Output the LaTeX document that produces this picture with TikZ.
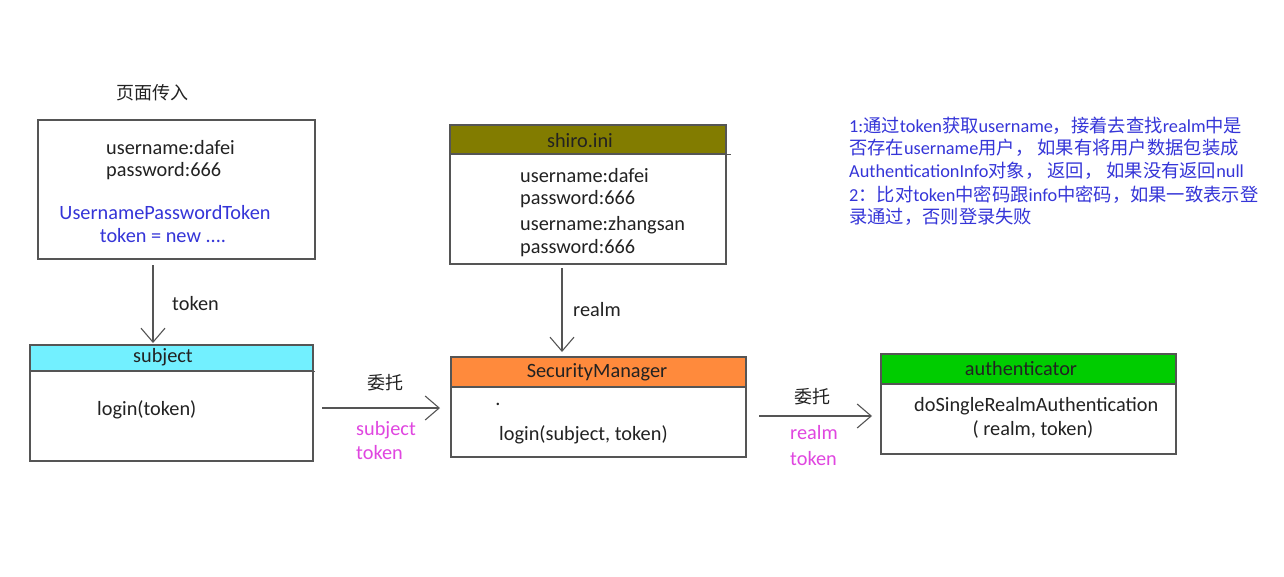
\documentclass[tikz,border=0pt]{standalone}
\usepackage{fontspec}
\setmainfont{Carlito}
\newfontfamily\cjk{Noto Sans CJK SC}
\usetikzlibrary{arrows.meta}
\definecolor{linec}{HTML}{555555}
\definecolor{txtc}{HTML}{222222}
\definecolor{bluec}{HTML}{3535D8}
\definecolor{magc}{HTML}{E046E0}
\definecolor{cyanc}{HTML}{72F0FF}
\definecolor{olivec}{HTML}{827C00}
\definecolor{orangec}{HTML}{FF8A3C}
\definecolor{greenc}{HTML}{00CC00}
\tikzset{
  box/.style={draw=linec, line width=1.2pt, inner sep=0pt, rectangle},
  hdr/.style={draw=linec, line width=1.2pt, inner sep=0pt, rectangle, font=\fontsize{20.3}{22}\selectfont, text=txtc},
  txt/.style={font=\fontsize{20.3}{22}\selectfont, text=txtc, inner sep=0pt},
  ctxt/.style={font=\fontsize{18}{20}\selectfont, text=txtc, inner sep=0pt},
  btxt/.style={font=\fontsize{20.3}{22}\selectfont, text=bluec, inner sep=0pt},
  mtxt/.style={font=\fontsize{20.3}{22}\selectfont, text=magc, inner sep=0pt},
  note/.style={font=\fontsize{18.3}{20}\selectfont, text=bluec, inner sep=0pt, anchor=west},
  arr/.style={draw=linec, line width=1.1pt, -{Straight Barb[length=14pt,width=24pt,line width=1.1pt]}}
}
\begin{document}
\begin{tikzpicture}[x=1pt,y=-1pt]
\useasboundingbox[fill=white] (0,0) rectangle (1284,576);

% title
\node[ctxt] (title) at (152,93) {\cjk 页面传入};

% input box
\node[box, minimum width=277, minimum height=139] (input) at (176.5,189.5) {};
\node[txt,anchor=west] (u1) at (106,148) {username:dafei};
\node[txt,anchor=west] (p1) at (106,171) {password:666};
\node[btxt] (upt) at (165,213) {UsernamePasswordToken};
\node[btxt] (tnew) at (163,236) {token = new ....};

% subject box
\node[box, minimum width=283, minimum height=116] (subject) at (171.5,403) {};
\node[hdr, fill=cyanc, minimum width=283, minimum height=26] (subjhdr) at (171.5,358) {};
\draw[linec, line width=1.2pt] (subjhdr.south west) -- ++(286,0);
\node[txt] (subjname) at (163,357) {subject};
\node[txt,anchor=west] (login1) at (97,410) {login(token)};

% arrow input -> subject
\coordinate (a1s) at (153,265);
\coordinate (a1e) at (153,343);
\draw[arr] (a1s) -- (a1e);
\node[txt,anchor=west] (tok) at (172,304) {token};

% shiro.ini box
\node[box, minimum width=276, minimum height=139] (shiro) at (588,194.5) {};
\node[hdr, fill=olivec, minimum width=276, minimum height=29] (shirohdr) at (588,139.5) {};
\draw[linec, line width=1.2pt] (shirohdr.south west) -- ++(282,0);
\node[txt] (shironame) at (580,141) {shiro.ini};
\node[txt,anchor=west] (su1) at (520,176) {username:dafei};
\node[txt,anchor=west] (sp1) at (520,199) {password:666};
\node[txt,anchor=west] (su2) at (520,225) {username:zhangsan};
\node[txt,anchor=west] (sp2) at (520,248) {password:666};

% SecurityManager box
\node[box, minimum width=295, minimum height=100] (sm) at (598.5,407) {};
\node[hdr, fill=orangec, minimum width=295, minimum height=30] (smhdr) at (598.5,372) {};
\node[txt] (smname) at (597,372) {SecurityManager};
\node[txt] (dot) at (498,404) {.};
\node[txt,anchor=west] (login2) at (499,435) {login(subject, token)};

% arrow shiro -> sm
\coordinate (a2s) at (562,268);
\coordinate (a2e) at (562,352);
\draw[arr] (a2s) -- (a2e);
\node[txt,anchor=west] (realmlbl) at (573,310) {realm};

% arrow subject -> sm
\coordinate (a3s) at (322,408);
\coordinate (a3e) at (440,408);
\draw[arr] (a3s) -- (a3e);
\node[ctxt] (wt1) at (385,383) {\cjk 委托};
\node[mtxt,anchor=west] (ms1) at (356,430) {subject};
\node[mtxt,anchor=west] (mt1) at (356,453) {token};

% authenticator box
\node[box, minimum width=295, minimum height=100] (auth) at (1028.5,404) {};
\node[hdr, fill=greenc, minimum width=295, minimum height=30] (authhdr) at (1028.5,369) {};
\node[txt] (authname) at (1021,369) {authenticator};
\node[txt,anchor=west] (dosr) at (914,406) {doSingleRealmAuthentication};
\node[txt] (dosr2) at (1033,429) {( realm, token)};

% arrow sm -> auth
\coordinate (a4s) at (759,416);
\coordinate (a4e) at (872,416);
\draw[arr] (a4s) -- (a4e);
\node[ctxt] (wt2) at (812,397) {\cjk 委托};
\node[mtxt,anchor=west] (mr2) at (790,433) {realm};
\node[mtxt,anchor=west] (mt2) at (790,459) {token};

% note
\node[note] (n1) at (849,126) {1:{\cjk 通过}token{\cjk 获取}username{\cjk ，接着去查找}realm{\cjk 中是}};
\node[note] (n2) at (849,148) {{\cjk 否存在}username{\cjk 用户， 如果有将用户数据包装成}};
\node[note] (n3) at (849,171) {AuthenticationInfo{\cjk 对象， 返回， 如果没有返回}null};
\node[note] (n4) at (849,195) {2{\cjk ：比对}token{\cjk 中密码跟}info{\cjk 中密码，如果一致表示登}};
\node[note] (n5) at (849,217) {{\cjk 录通过，否则登录失败}};
\end{tikzpicture}
\end{document}
